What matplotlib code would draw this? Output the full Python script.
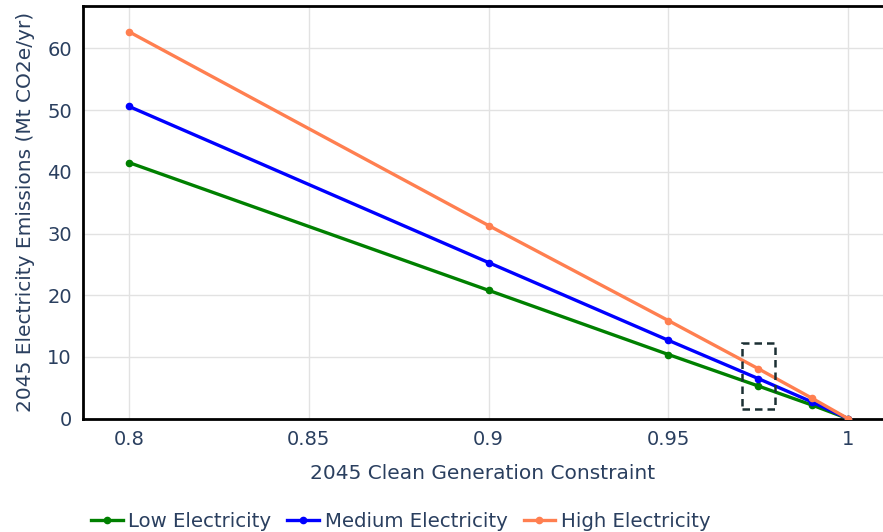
"""
2045 electricity emissions vs clean generation constraint
"""
import matplotlib
matplotlib.use("Agg")
import matplotlib.pyplot as plt
from matplotlib.patches import Rectangle

constraint = [0.8, 0.9, 0.95, 0.975, 0.99, 1.0]
low = [41.5, 20.8, 10.4, 5.3, 2.2, 0.0]
medium = [50.6, 25.3, 12.7, 6.5, 2.7, 0.0]
high = [62.7, 31.3, 15.9, 8.1, 3.3, 0.0]

series_names = ["Low Electricity", "Medium Electricity", "High Electricity"]
x_ticks = [0.8, 0.85, 0.9, 0.95, 1.0]
x_tick_labels = ["0.8", "0.85", "0.9", "0.95", "1"]
y_ticks = [0, 10, 20, 30, 40, 50, 60]

# highlighted region (dashed box)
box_x = (0.9705, 0.9797)
box_y = (1.6, 12.3)

text_color = "#2a3f5f"
plt.rcParams["font.family"] = ["DejaVu Sans"]

if __name__ == "__main__":
    fig = plt.figure(figsize=(8.83, 5.32), dpi=100)
    ax = fig.add_axes([0.094, 0.213, 0.906, 0.776])

    colors = ["#008000", "#0000ff", "#ff7f50"]
    for values, name, c in zip([low, medium, high], series_names, colors):
        ax.plot(constraint, values, color=c, lw=2.4, marker="o", markersize=4.5,
                label=name, zorder=3)

    ax.add_patch(Rectangle((box_x[0], box_y[0]), box_x[1] - box_x[0], box_y[1] - box_y[0],
                           fill=False, ls=(0, (3, 2)), lw=1.8, edgecolor="#1b2f33", zorder=4))

    ax.set_xlim(0.7872, 1.0097)
    ax.set_ylim(0, 66.9)
    ax.set_xticks(x_ticks)
    ax.set_xticklabels(x_tick_labels)
    ax.set_yticks(y_ticks)
    ax.grid(color="#e2e2e2", lw=1)
    ax.set_axisbelow(True)
    ax.tick_params(length=0, labelsize=14, colors=text_color, pad=8)

    for side in ["left", "bottom", "top"]:
        ax.spines[side].set_color("black")
        ax.spines[side].set_linewidth(2)
    ax.spines["right"].set_visible(False)

    ax.set_xlabel("2045 Clean Generation Constraint", fontsize=14.5, color=text_color, labelpad=11)
    ax.set_ylabel("2045 Electricity Emissions (Mt CO2e/yr)", fontsize=14.5, color=text_color, labelpad=9)

    leg = ax.legend(loc="center left", bbox_to_anchor=(0.01, -0.248), ncol=3, frameon=False,
                    fontsize=14.2, handlelength=1.6, handletextpad=0.3, columnspacing=0.8,
                    borderaxespad=0.0, borderpad=0.0)
    for t in leg.get_texts():
        t.set_color(text_color)

    fig.savefig("out.png", dpi=100)
